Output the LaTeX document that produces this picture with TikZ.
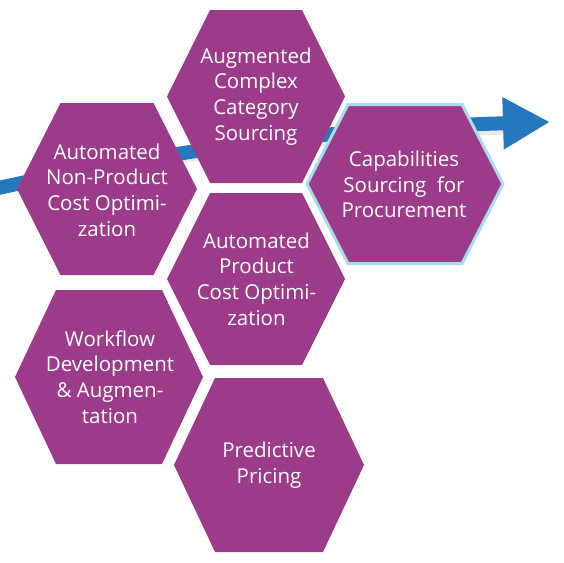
\documentclass[tikz,border=0pt]{standalone}
\usepackage{fontspec}
\setmainfont{Open Sans}
\usetikzlibrary{arrows.meta}
\definecolor{hexpurple}{RGB}{157,59,139}
\definecolor{arrowblue}{RGB}{38,120,190}
\definecolor{rimblue}{RGB}{168,220,232}
\newcommand{\hexpath}[5]{(#1-#3,#2) -- (#1-#5,#2-#4) -- (#1+#5,#2-#4) -- (#1+#3,#2) -- (#1+#5,#2+#4) -- (#1-#5,#2+#4) -- cycle}
\tikzset{
  hexfill/.style={fill=hexpurple, draw=none},
  hexrim/.style={fill=hexpurple, draw=rimblue, line width=3pt, line join=miter},
  hextext/.style={text=white, align=center, inner sep=0pt,
    font=\fontsize{20.5}{25.7}\selectfont},
  shaft/.style={draw=arrowblue, line width=14pt},
  shaftshadow/.style={draw=black!35, line width=9pt, opacity=0.25},
}
\begin{document}
\begin{tikzpicture}[x=1pt,y=-1pt]
\useasboundingbox (0,0) rectangle (564,562);
% arrow
\coordinate (astart) at (-6,189);
\coordinate (aend) at (550,122);
\draw[shaftshadow, yshift=-6pt] (astart) .. controls (167,151) and (335,129) .. (505,124);
\draw[shaft, -{Triangle[length=47pt,width=49pt]}] (astart) .. controls (167,150.3) and (335,128) .. (aend);
% hexagons
\path[hexfill] \hexpath{256}{96.5}{89}{86.5}{46};
\path[hexfill] \hexpath{107}{189}{90}{86}{46.5};
\path[hexrim]  \hexpath{405}{184}{98}{79.5}{57};
\path[hexfill] \hexpath{256}{279}{89}{86}{46};
\path[hexfill] \hexpath{109}{377}{94}{87}{53};
\path[hexfill] \hexpath{269}{465}{95}{87}{54};
% texts
\node[hextext] (acs) at (256,96.5) {Augmented\\Complex\\Category\\Sourcing};
\node[hextext] (anp) at (107,190) {Automated\\Non-Product\\Cost Optimi-\\zation};
\node[hextext] (csp) at (404,184.5) {Capabilities\\Sourcing\hspace{0.25em} for\\Procurement};
\node[hextext] (apc) at (256.5,279) {Automated\\Product\\Cost Optimi-\\zation};
\node[hextext] (wda) at (110,377) {Workflow\\Development\\\& Augmen-\\tation};
\node[hextext] (pp) at (269,465) {Predictive\\Pricing};
\end{tikzpicture}
\end{document}
